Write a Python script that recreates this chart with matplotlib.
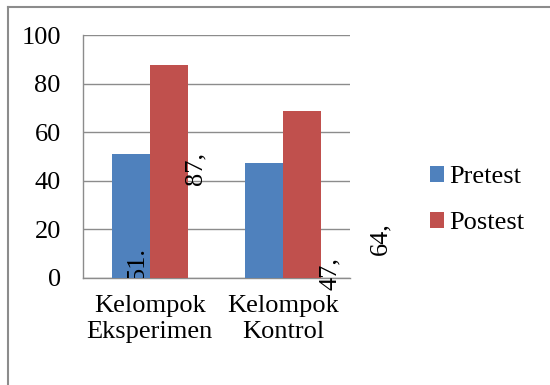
import matplotlib
matplotlib.use("Agg")
import matplotlib.pyplot as plt
from matplotlib.lines import Line2D
import numpy as np

# data
kategori = ["Kelompok\nEksperimen", "Kelompok\nKontrol"]
pretest = [51.2, 47.3]
postest = [87.8, 68.6]
label_teks = ["51.", "87,", "47,", "64,"]
label_posisi = [(-0.095, -1), (0.34, 45), (1.35, 2), (1.725, 16)]

plt.rcParams['font.family'] = ['Liberation Serif', 'DejaVu Serif']
ukuran = 19

fig = plt.figure(figsize=(5.5, 3.85), dpi=100)
ax = fig.add_axes([83/550, 1 - 278/385, 267/550, 243/385])

x = np.arange(len(kategori))
lebar = 0.285
ax.bar(x - lebar/2, pretest, lebar, color='#4F81BD', label='Pretest', zorder=3)
ax.bar(x + lebar/2, postest, lebar, color='#C0504D', label='Postest', zorder=3)

ax.set_xlim(-0.5, 1.5)
ax.set_ylim(0, 100)
ax.set_yticks(range(0, 101, 20))
ax.set_xticks(x)
ax.set_xticklabels(kategori, fontsize=ukuran, linespacing=1.25)
ax.tick_params(axis='y', labelsize=ukuran, length=0, pad=16)
ax.tick_params(axis='x', length=0, pad=12)
ax.yaxis.grid(True, color='#8c8c8c', linewidth=1, zorder=0)

for s in ['top', 'right']:
    ax.spines[s].set_visible(False)
for s in ['left', 'bottom']:
    ax.spines[s].set_color('#8c8c8c')
    ax.spines[s].set_linewidth(1)

# data labels (rotated, as in the original)
for teks, (px, py) in zip(label_teks, label_posisi):
    if teks == "51.":
        ax.text(px, py, teks, rotation=90, fontsize=ukuran, ha='center',
                va='bottom', clip_on=True, zorder=4)
    else:
        ax.text(px, py, teks, rotation=90, fontsize=ukuran, ha='center',
                va='center', clip_on=False, zorder=4)

# legend
ax.legend(loc='center left', bbox_to_anchor=(1.21, 0.32), frameon=False,
          fontsize=ukuran, handlelength=0.55, handleheight=0.55,
          handletextpad=0.2, labelspacing=0.9)

# outer border of the chart
fig.add_artist(Line2D([8/550, 1], [1 - 7/385, 1 - 7/385], color='#8c8c8c', lw=1.5))
fig.add_artist(Line2D([8/550, 8/550], [0, 1 - 7/385], color='#8c8c8c', lw=1.5))

fig.savefig('out.png', dpi=100)
